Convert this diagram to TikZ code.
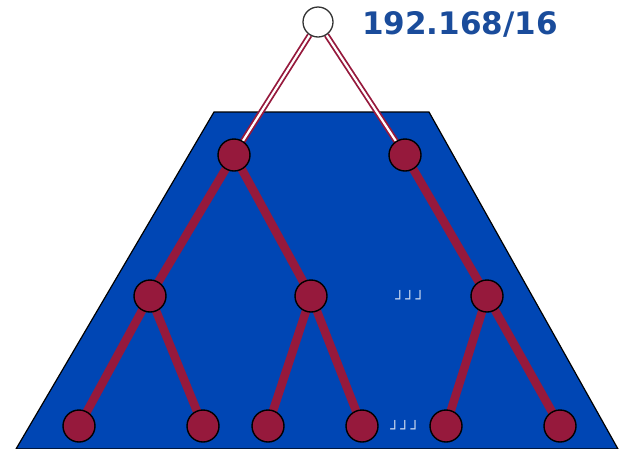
\documentclass[tikz,border=0pt]{standalone}
\usepackage{fontspec}
\newfontfamily\dejavu{DejaVu Sans}
\definecolor{trapblue}{RGB}{0,70,180}
\definecolor{maroon}{RGB}{150,25,60}
\definecolor{txtblue}{RGB}{26,76,155}
\definecolor{dotcol}{RGB}{205,218,240}
\pgfdeclarelayer{trap}
\pgfdeclarelayer{edges}
\pgfsetlayers{trap,edges,main}
\tikzset{
  treenode/.style={circle,draw=black,line width=1.4pt,fill=maroon,minimum size=32pt,inner sep=0pt},
  rootnode/.style={circle,draw=black!80,line width=1.3pt,fill=white,minimum size=30pt,inner sep=0pt},
  branch/.style={draw=maroon,line width=8.5pt},
  uplink/.style={draw=maroon,line width=1.8pt,double=white,double distance=2.2pt},
  dots/.style={font=\dejavu\bfseries\fontsize{15}{15}\selectfont,text=dotcol,inner sep=0pt}
}
\begin{document}
\begin{tikzpicture}[x=1pt,y=-1pt]
\useasboundingbox (0,0) rectangle (621,448);
\begin{pgfonlayer}{trap}
\fill[trapblue,draw=black,line width=1.2pt] (214,112) -- (429,112) -- (618,449) -- (16,449) -- cycle;
\end{pgfonlayer}
% nodes
\node[rootnode] (r) at (318,22) {};
\node[treenode] (a) at (234,155) {};
\node[treenode] (b) at (405,155) {};
\node[treenode] (aa) at (150,296) {};
\node[treenode] (ab) at (311,296) {};
\node[treenode] (bb) at (487,296) {};
\node[treenode] (aaa) at (79,426) {};
\node[treenode] (aab) at (203,426) {};
\node[treenode] (aba) at (268,426) {};
\node[treenode] (abb) at (362,426) {};
\node[treenode] (bba) at (446,426) {};
\node[treenode] (bbb) at (560,426) {};
% edges
\begin{pgfonlayer}{edges}
\draw[uplink] (r) -- (a.center);
\draw[uplink] (r) -- (b.center);
\foreach \p/\c in {a/aa,a/ab,b/bb,aa/aaa,aa/aab,ab/aba,ab/abb,bb/bba,bb/bbb}{
  \draw[branch] (\p.center) -- (\c.center);
}
\end{pgfonlayer}
\node[dots] (d1) at (410,297) {┘\kern1pt┘\kern1pt┘};
\node[dots] (d2) at (405,427) {┘\kern1pt┘\kern1pt┘};
\node[font=\dejavu\bfseries\fontsize{31}{31}\selectfont,text=txtblue,anchor=west,inner sep=0pt] (lbl) at (362,24) {192.168/16};
\end{tikzpicture}
\end{document}
